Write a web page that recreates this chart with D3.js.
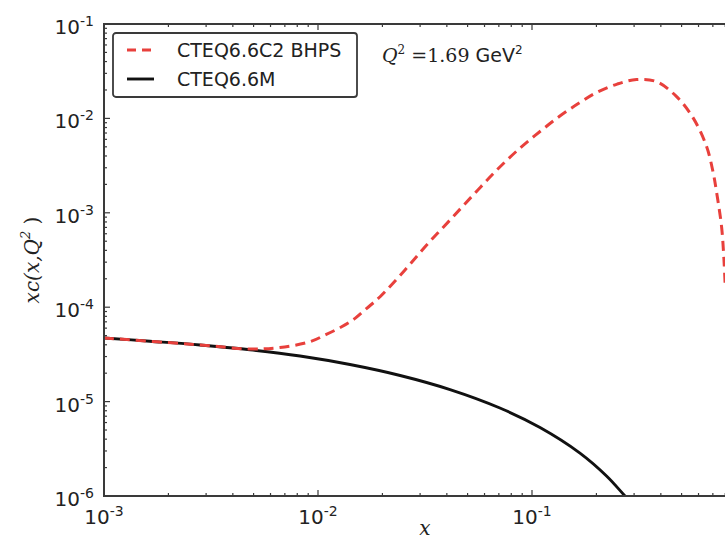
<!DOCTYPE html>
<html>
<head>
<meta charset="utf-8">
<script src="https://cdn.jsdelivr.net/npm/d3@7"></script>
<style>
  body { margin: 0; background: #fff; overflow: hidden; }
  svg { display: block; }
</style>
</head>
<body>
<div id="chart"></div>
<script>
// values
var blackX = [0.001, 0.00164, 0.00281, 0.00481, 0.00824, 0.0141, 0.0242, 0.0414, 0.0708, 0.109, 0.1675, 0.223, 0.272, 0.32];
var blackY = [4.72e-5, 4.36e-5, 3.98e-5, 3.54e-5, 3.04e-5, 2.47e-5, 1.89e-5, 1.34e-5, 8.55e-6, 5.32e-6, 2.85e-6, 1.63e-6, 1.0e-6, 6.7e-7];

var redX = [0.001, 0.00281, 0.00481, 0.00664, 0.00918, 0.0108, 0.0129, 0.0149, 0.0169, 0.0195, 0.0255, 0.0322,
            0.0414, 0.0532, 0.0685, 0.0879, 0.109, 0.135, 0.1675, 0.2005, 0.25, 0.308, 0.382, 0.474, 0.568,
            0.655, 0.703, 0.730, 0.769, 0.789, 0.80];
var redY = [4.72e-5, 3.98e-5, 3.61e-5, 3.74e-5, 4.31e-5, 5.08e-5, 6.21e-5, 7.62e-5, 9.73e-5, 1.29e-4, 2.48e-4, 4.56e-4,
            8.39e-4, 1.55e-3, 2.84e-3, 4.85e-3, 7.26e-3, 0.01059, 0.01473, 0.0188, 0.0231, 0.0258, 0.0245, 0.017, 0.0100,
            5.0e-3, 2.64e-3, 1.61e-3, 7.1e-4, 3.16e-4, 1.6e-4];

var xTicks = [1e-3, 1e-2, 1e-1];
var xTickExp = ["-3", "-2", "-1"];
var yTicks = [1e-6, 1e-5, 1e-4, 1e-3, 1e-2, 1e-1];
var yTickExp = ["-6", "-5", "-4", "-3", "-2", "-1"];

var seriesNames = ["CTEQ6.6C2 BHPS", "CTEQ6.6M"];

var margin = {top: 24, left: 104},
    width = 642,
    height = 472;

var svg = d3.select("#chart")
  .append("svg")
    .attr("width", 725)
    .attr("height", 542);

var g = svg.append("g")
    .attr("transform", "translate(" + margin.left + "," + margin.top + ")");

var x = d3.scaleLog().domain([1e-3, 1]).range([0, width]);
var y = d3.scaleLog().domain([1e-6, 1e-1]).range([height, 0]);

var axisColor = "#3a3a3a";
var sans = "DejaVu Sans, sans-serif";
var serif = "DejaVu Serif, serif";

g.append("clipPath").attr("id", "clip")
  .append("rect").attr("width", width).attr("height", height);

// curves
var line = d3.line()
  .x(function (d) { return x(d[0]); })
  .y(function (d) { return y(d[1]); })
  .curve(d3.curveCatmullRom.alpha(0.5));

var plot = g.append("g").attr("clip-path", "url(#clip)");

plot.append("path")
  .datum(blackX.map(function (v, i) { return [v, blackY[i]]; }))
  .attr("d", line)
  .attr("fill", "none")
  .attr("stroke", "#111")
  .attr("stroke-width", 2.9);

plot.append("path")
  .datum(redX.map(function (v, i) { return [v, redY[i]]; }))
  .attr("d", line)
  .attr("fill", "none")
  .attr("stroke", "#e8403c")
  .attr("stroke-width", 3)
  .attr("stroke-dasharray", "10,6");

// minor tick positions
function minorTicks(lo, hi) {
  var out = [];
  for (var e = lo; e < hi; e++) {
    for (var m = 2; m <= 9; m++) out.push(m * Math.pow(10, e));
  }
  return out;
}
var xMinor = minorTicks(-3, 0);
var yMinor = minorTicks(-6, -1);

var ticks = g.append("g").attr("stroke", axisColor).attr("stroke-width", 1.2);
// bottom and top ticks (inward)
[height, 0].forEach(function (base) {
  var dir = base === 0 ? 1 : -1;
  ticks.selectAll(null).data(xTicks).enter().append("line")
    .attr("x1", function (d) { return x(d); }).attr("x2", function (d) { return x(d); })
    .attr("y1", base).attr("y2", base + dir * 6);
  ticks.selectAll(null).data(xMinor).enter().append("line")
    .attr("x1", function (d) { return x(d); }).attr("x2", function (d) { return x(d); })
    .attr("y1", base).attr("y2", base + dir * 3);
});
// left ticks (inward)
ticks.selectAll(null).data(yTicks).enter().append("line")
  .attr("x1", 0).attr("x2", 6)
  .attr("y1", function (d) { return y(d); }).attr("y2", function (d) { return y(d); });
ticks.selectAll(null).data(yMinor).enter().append("line")
  .attr("x1", 0).attr("x2", 3)
  .attr("y1", function (d) { return y(d); }).attr("y2", function (d) { return y(d); });

// spines
g.append("rect")
  .attr("width", width).attr("height", height)
  .attr("fill", "none")
  .attr("stroke", axisColor)
  .attr("stroke-width", 2);

// tick labels
var xl = g.append("g").attr("font-family", sans).attr("fill", "#222");
xTicks.forEach(function (t, i) {
  var tx = xl.append("text")
    .attr("x", x(t)).attr("y", height + 28)
    .attr("text-anchor", "middle")
    .attr("font-size", 20);
  tx.append("tspan").text("10");
  tx.append("tspan").attr("font-size", 14).attr("dy", -8).text(xTickExp[i]);
});

yTicks.forEach(function (t, i) {
  var ty = xl.append("text")
    .attr("x", -10).attr("y", y(t) + 10)
    .attr("text-anchor", "end")
    .attr("font-size", 20);
  ty.append("tspan").text("10");
  ty.append("tspan").attr("font-size", 14).attr("dy", -8).text(yTickExp[i]);
});

// axis titles
g.append("text")
  .attr("x", width / 2).attr("y", height + 39)
  .attr("text-anchor", "middle")
  .attr("font-family", serif).attr("font-style", "italic")
  .attr("font-size", 20).attr("fill", "#222")
  .text("x");

var yt = g.append("text")
  .attr("transform", "translate(" + (-65) + "," + (height / 2) + ") rotate(-90)")
  .attr("text-anchor", "middle")
  .attr("font-family", serif).attr("font-style", "italic")
  .attr("font-size", 20).attr("fill", "#222");
yt.append("tspan").text("xc(x,Q");
yt.append("tspan").attr("font-size", 13).attr("dy", -9).text("2");
yt.append("tspan").attr("dy", 9).attr("font-style", "normal").text(" )");

// legend
var lg = g.append("g").attr("transform", "translate(9,9)");
lg.append("rect")
  .attr("width", 244).attr("height", 64).attr("rx", 3)
  .attr("fill", "#fff").attr("stroke", axisColor).attr("stroke-width", 1.8);
var legendStyles = [
  {color: "#e8403c", dash: "9,6", w: 3},
  {color: "#111", dash: null, w: 2.9}
];
seriesNames.forEach(function (name, i) {
  var row = lg.append("g").attr("transform", "translate(0," + (17 + i * 29) + ")");
  row.append("line")
    .attr("x1", 14).attr("x2", 41)
    .attr("stroke", legendStyles[i].color)
    .attr("stroke-width", legendStyles[i].w)
    .attr("stroke-dasharray", legendStyles[i].dash);
  row.append("text")
    .attr("x", 64).attr("y", 7)
    .attr("font-family", sans).attr("font-size", 19).attr("fill", "#222")
    .text(name);
});

// annotation
var an = g.append("text")
  .attr("x", 278).attr("y", 38)
  .attr("font-size", 19).attr("fill", "#222");
an.append("tspan").attr("font-family", serif).attr("font-style", "italic").text("Q");
an.append("tspan").attr("font-family", serif).attr("font-size", 12).attr("dy", -8).text("2");
an.append("tspan").attr("font-family", serif).attr("dy", 8).text(" =1.69 ");
an.append("tspan").attr("font-family", sans).text("GeV");
an.append("tspan").attr("font-family", sans).attr("font-size", 12).attr("dy", -8).text("2");
</script>
</body>
</html>
